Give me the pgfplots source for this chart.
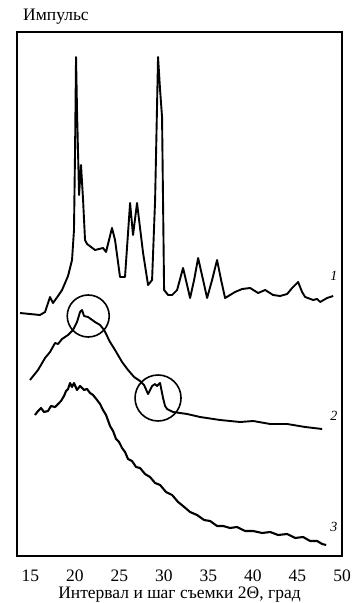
\documentclass[border=0pt]{standalone}
\usepackage{fontspec}
\setmainfont{Liberation Serif}
\usepackage{pgfplots}
\pgfplotsset{compat=1.18}
\begin{document}
\begin{tikzpicture}
\fontsize{15}{18}\selectfont
\begin{axis}[
  scale only axis,
  width=325pt, height=524pt,
  xmin=13.5, xmax=50, ymin=0, ymax=524,
  axis line style={line width=1.3pt, black},
  xtick={15,20,25,30,35,40,45,50},
  ytick=\empty,
  major tick length=0pt,
  /pgf/number format/assume math mode=true,
  xticklabel style={font=\fontsize{17.5}{19}\selectfont, yshift=-9pt},
  xlabel={Интервал и шаг съемки 2Θ, град},
  xlabel style={font=\fontsize{17.5}{20}\selectfont, yshift=5pt},
  clip=false,
  every axis plot/.append style={line width=1.9pt, black, line join=round},
]
% curve 1
\addplot[mark=none] coordinates {
(13.84,243)(14.96,242)(16.08,241)(16.65,244)(17.21,259)(17.54,253)(18.11,260)(18.56,266)
(19.23,280)(19.68,296)(19.90,326)(20.02,406)(20.13,499)(20.24,446)(20.47,361)(20.69,391)
(20.92,356)(21.14,316)(21.37,312)(22.26,306)(23.16,308)(23.50,304)(24.17,328)(24.51,316)
(25.07,279)(25.63,279)(26.20,353)(26.53,321)(26.98,353)(27.66,303)(28.22,271)(28.67,276)
(29.01,356)(29.34,499)(29.57,466)(29.79,439)(29.90,356)(30.02,266)(30.47,261)(30.92,261)
(31.48,266)(32.15,288)(32.60,271)(32.94,258)(33.39,276)(33.84,298)(34.40,276)(34.85,258)
(35.41,276)(35.97,296)(36.42,276)(36.87,258)(37.43,261)(37.99,264)(38.78,267)(39.68,268)
(40.58,263)(41.37,266)(42.26,261)(43.05,260)(43.84,262)(44.40,268)(45.07,274)(45.52,264)
(45.86,259)(46.76,256)(47.21,257)(47.54,254)(48.33,258)(49.01,260)
};
% curve 2
\addplot[mark=none] coordinates {
(14.96,176)(15.86,186)(16.65,198)(17.21,204)(17.77,213)(18.11,212)(18.56,217)(19.23,221)
(19.79,226)(20.24,234)(20.58,244)(20.80,246)(21.03,240)(21.48,239)(22.26,234)(22.83,231)
(23.28,226)(23.95,214)(24.51,206)(25.30,194)(25.97,186)(26.65,179)(27.32,175)(27.77,171)
(28.22,162)(28.67,170)(29.01,172)(29.23,170)(29.57,173)(29.90,158)(30.13,150)(30.36,147)
(31.03,144)(32.60,142)(34.06,139)(36.31,136)(38.56,134)(40.02,135)(41.93,132)(43.84,132)
(45.86,129)(47.77,127)
};
% curve 3
\addplot[mark=none, line width=2.1pt] coordinates {
(15.52,141)(15.86,145)(16.20,148)(16.53,144)(16.98,145)(17.32,150)(17.77,149)(18.11,152)
(18.44,155)(18.78,160)(19.01,165)(19.23,167)(19.46,173)(19.68,169)(19.90,173)(20.24,166)
(20.58,170)(21.03,166)(21.37,167)(21.70,163)(22.04,161)(22.49,156)(22.83,152)(23.16,146)
(23.50,141)(23.95,130)(24.29,125)(24.62,117)(24.96,114)(25.30,108)(25.63,104)(25.97,97)
(26.42,95)(26.87,89)(27.32,88)(27.88,82)(28.44,79)(29.01,73)(29.57,71)(30.24,64)
(30.92,61)(31.59,54)(32.15,50)(32.94,44)(33.72,41)(34.51,36)(35.19,35)(35.97,30)
(36.65,30)(37.43,28)(38.21,29)(39.12,25)(40.02,25)(41.03,23)(41.93,24)(42.83,21)
(43.84,22)(44.74,18)(45.63,19)(46.42,15)(47.21,15)(47.77,12)(48.22,11)
};
% circles
\addplot[only marks, mark=o, mark size=21pt, mark options={line width=1.6pt}] coordinates {(21.5,240)};
\addplot[only marks, mark=o, mark size=23pt, mark options={line width=1.6pt}] coordinates {(29.34,158)};
% curve labels
\node[font=\itshape\fontsize{14}{16}\selectfont] at (axis cs:49.1,280) {1};
\node[font=\itshape\fontsize{14}{16}\selectfont] at (axis cs:49.1,140) {2};
\node[font=\itshape\fontsize{14}{16}\selectfont] at (axis cs:49.1,29) {3};
\node[anchor=base west, font=\fontsize{17.5}{20}\selectfont, xshift=1pt, yshift=11pt] at (rel axis cs:0,1) {Импульс};
\end{axis}
\pgfresetboundingbox
\path (current axis.south west) ++(-17pt,-47pt) rectangle ([xshift=15pt,yshift=32pt]current axis.north east);
\end{tikzpicture}
\end{document}
